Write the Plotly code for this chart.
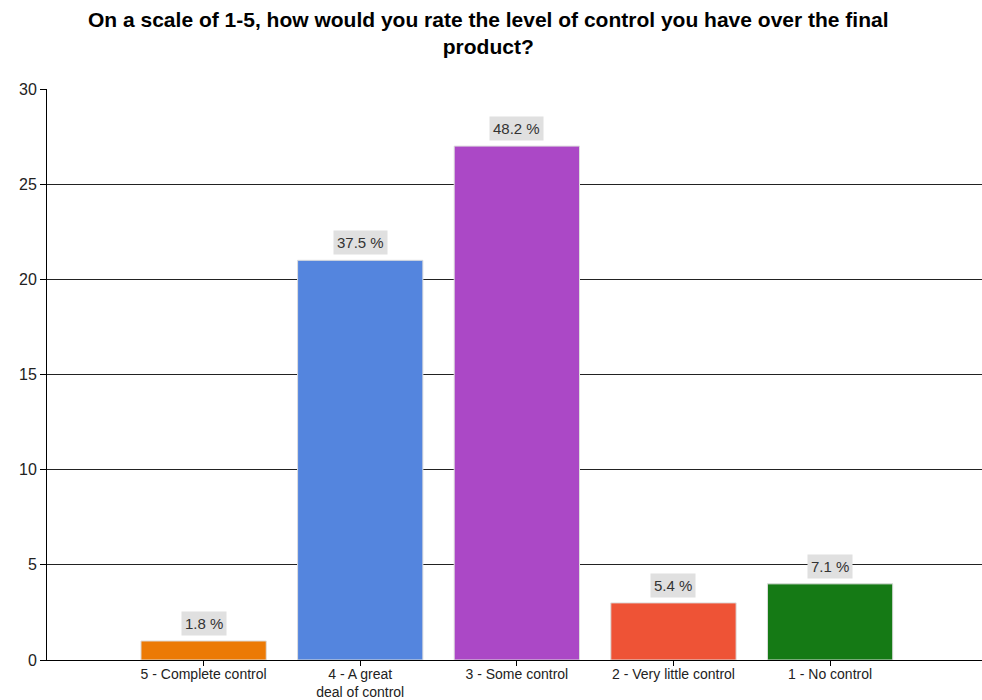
import plotly.graph_objects as go

categories = ["5 - Complete control", "4 - A great<br>deal of control", "3 - Some control",
              "2 - Very little control", "1 - No control"]
counts = [1, 21, 27, 3, 4]
percent_labels = ["1.8 %", "37.5 %", "48.2 %", "5.4 %", "7.1 %"]
colors = ["#ec7a05", "#5485de", "#ab48c6", "#ee5336", "#157a15"]
y_ticks = [0, 5, 10, 15, 20, 25, 30]
title_text = ("<b>On a scale of 1-5, how would you rate the level of control you have over the final"
              "<br>product?</b>")

FONT = "Liberation Sans, Arial, sans-serif"

fig = go.Figure()
fig.add_trace(go.Bar(
    x=categories, y=counts, width=0.8,
    marker=dict(color=colors, line=dict(color="#dddddd", width=1)),
    hoverinfo="x+y",
))

for c, v, t in zip(categories, counts, percent_labels):
    fig.add_annotation(x=c, y=v, text=t, showarrow=False, yanchor="bottom", yshift=5,
                       bgcolor="#e0e0e0", borderpad=3,
                       font=dict(family=FONT, size=15, color="#333333"))

fig.add_annotation(text=title_text, xref="paper", yref="paper", x=0.472, y=1.145,
                   xanchor="center", yanchor="top", showarrow=False,
                   font=dict(family=FONT, size=21, color="black"))

fig.update_layout(
    width=982, height=700,
    paper_bgcolor="white", plot_bgcolor="white",
    margin=dict(l=47, r=0, t=89, b=40),
    showlegend=False,
    font=dict(family=FONT, size=14, color="#222222"),
    bargap=0.2,
)
fig.update_xaxes(
    type="category", range=[-1, 4.97], automargin=False,
    showline=True, linecolor="black", linewidth=1,
    ticks="outside", ticklen=5, tickcolor="black",
    ticklabelstandoff=-4,
    showgrid=False, tickfont=dict(size=14),
)
fig.update_yaxes(
    range=[0, 30], tickvals=y_ticks, automargin=False,
    showline=True, linecolor="black", linewidth=1,
    ticks="outside", ticklen=6, tickcolor="black",
    showgrid=True, gridcolor="#222222", gridwidth=1,
    zeroline=False, tickfont=dict(size=16),
)

fig.write_html("out.html")
